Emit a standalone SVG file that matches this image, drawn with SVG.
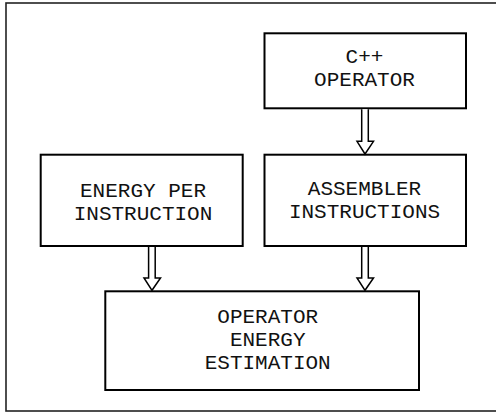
<svg xmlns="http://www.w3.org/2000/svg" width="496" height="412" viewBox="0 0 496 412">
  <style>
    .box { fill: #fff; stroke: #000; stroke-width: 2; }
    .frame { fill: none; stroke: #222; stroke-width: 1.6; }
    .lbl { font-family: "Liberation Mono", "Courier New", monospace; font-size: 21px; fill: #111; text-anchor: middle; }
    .arrow { fill: #fff; stroke: #000; stroke-width: 1.5; stroke-linejoin: miter; }
  </style>
  <rect x="0" y="0" width="496" height="412" fill="#fff"/>
  <!-- outer frame (runs past the right edge) -->
  <rect class="frame" x="6" y="3" width="500" height="408"/>

  <g id="cpp-operator">
    <rect class="box" x="264.5" y="33.3" width="201.5" height="75"/>
    <text class="lbl" x="364.5" y="63">C++</text>
    <text class="lbl" x="364.5" y="86">OPERATOR</text>
  </g>

  <g id="energy-per-instruction">
    <rect class="box" x="40.7" y="154.7" width="202" height="91.3"/>
    <text class="lbl" x="143" y="196.5">ENERGY PER</text>
    <text class="lbl" x="143" y="219.5">INSTRUCTION</text>
  </g>

  <g id="assembler-instructions">
    <rect class="box" x="264.5" y="154.7" width="201.5" height="91.3"/>
    <text class="lbl" x="364.5" y="194.5">ASSEMBLER</text>
    <text class="lbl" x="364.5" y="217.5">INSTRUCTIONS</text>
  </g>

  <g id="operator-energy-estimation">
    <rect class="box" x="105.3" y="291.3" width="313.7" height="98.7"/>
    <text class="lbl" x="267.7" y="323.3">OPERATOR</text>
    <text class="lbl" x="267.7" y="346.3">ENERGY</text>
    <text class="lbl" x="267.7" y="369.3">ESTIMATION</text>
  </g>

  <g id="connectors">
    <!-- C++ operator -> assembler instructions -->
    <path class="arrow" d="M361.7,109.3 V141.3 H357 L365,154 L373.5,141.3 H368.3 V109.3"/>
    <!-- energy per instruction -> estimation -->
    <path class="arrow" d="M148.6,247 V278 H144 L152,290.3 L160.5,278 H155.2 V247"/>
    <!-- assembler instructions -> estimation -->
    <path class="arrow" d="M361.7,247 V278 H357 L365,290.3 L373.5,278 H368.3 V247"/>
  </g>
</svg>
